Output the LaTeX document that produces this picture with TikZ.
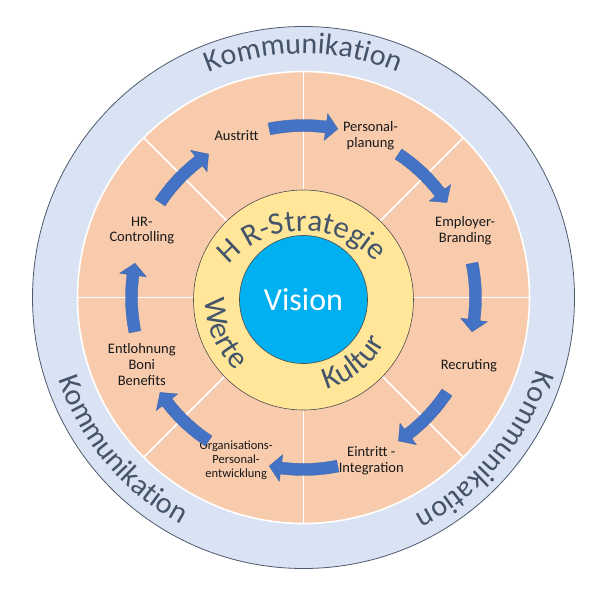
\documentclass[tikz,border=0pt]{standalone}
\usepackage{fontspec}
\setmainfont{Carlito}
\usepackage{tikz}
\usetikzlibrary{decorations.text}
\definecolor{bandblue}{HTML}{DAE3F3}
\definecolor{ringorange}{HTML}{F8CBAD}
\definecolor{coreyellow}{HTML}{FFE699}
\definecolor{visionblue}{HTML}{00B0F0}
\definecolor{arrowblue}{HTML}{4472C4}
\definecolor{slatetext}{HTML}{44546A}
\definecolor{rimgray}{HTML}{4E5B6E}

\newcommand{\kommfont}{\fontsize{30}{30}\selectfont\color{slatetext}}
\newcommand{\corefont}{\fontsize{31}{31}\selectfont\color{slatetext}}

\begin{document}
\begin{tikzpicture}[
  lbl/.style={
    font=\fontsize{14.5}{15.7}\selectfont,
    text=black!90,
    align=center,
    inner sep=0pt
  },
  divider/.style={draw=white, line width=1.6pt},
  flowarrow/.style={fill=arrowblue, draw=arrowblue!85!black, line width=0.3pt},
  curvetext/.style={decorate, decoration={text along path, text align=center, text={#1}}}
]
  \useasboundingbox[fill=white] (-303.5pt,-300.5pt) rectangle (307.5pt,297.5pt);

  % Outer ring: Kommunikation
  \filldraw[fill=bandblue, draw=rimgray, line width=0.8pt] (0,0) circle[radius=271pt];

  % Process ring with eight sectors
  \filldraw[fill=ringorange, draw=white, line width=1.6pt] (0,0) circle[radius=226pt];
  \foreach \a in {0,45,...,315}
    \draw[divider] (\a:100pt) -- (\a:226pt);

  % Core: values, culture, strategy and vision
  \filldraw[fill=coreyellow, draw=black!70, line width=0.6pt] (0pt,-2.5pt) circle[radius=110pt];
  \node[circle, fill=visionblue, draw=black!70, line width=0.6pt, minimum size=128pt, inner sep=0pt,
        text=white, font=\fontsize{32}{32}\selectfont] (vision) at (0pt,-2pt) {Vision};

  \path[curvetext={|\corefont|H R-Strategie}]
    ([shift={(0pt,-32.5pt)}]150:99pt) arc[start angle=150, end angle=32, radius=99pt];
  \path[curvetext={|\corefont|Werte}]
    ([shift={(0pt,-2.5pt)}]168:98pt) arc[start angle=168, end angle=238, radius=98pt];
  \path[curvetext={|\corefont|Kultur}]
    ([shift={(0pt,-2.5pt)}]-85:92pt) arc[start angle=-85, end angle=-18, radius=92pt];

  % Kommunikation lettering on the outer band
  \path[curvetext={|\kommfont|Kommunikation}]
    (125:244pt) arc[start angle=125, end angle=55, radius=244pt];
  \path[curvetext={|\kommfont|Kommunikation}]
    (-5:244pt) arc[start angle=-5, end angle=-75, radius=244pt];
  \path[curvetext={|\kommfont|Kommunikation}]
    (185:258pt) arc[start angle=185, end angle=255, radius=258pt];

  % Process steps
  \node[lbl] (austritt) at (112.5:175pt) {Austritt};
  \node[lbl] (planung) at (67.5:175pt) {Personal-\\planung};
  \node[lbl] (branding) at (22.5:175pt) {Employer-\\Branding};
  \node[lbl] (recruting) at (-22.5:179pt) {Recruting};
  \node[lbl] (eintritt) at (-67.5:177pt) {Eintritt -\\Integration};
  \node[lbl, font=\fontsize{12.5}{14}\selectfont] (entwicklung) at (-112.5:176pt)
    {Organisations-\\Personal-\\entwicklung};
  \node[lbl] (entlohnung) at (202.5:175pt) {Entlohnung\\Boni\\Benefits};
  \node[lbl] (controlling) at (157.5:175pt) {HR-\\Controlling};

  % Clockwise block arrows across the dividers
  \foreach \a in {0,45,...,315}
    \filldraw[flowarrow] (\a+11.5:178pt) arc[start angle=\a+11.5, end angle=\a-7.5, radius=178pt]
      -- (\a-7.5:185.5pt) -- (\a-11.5:172pt) -- (\a-7.5:158.5pt) -- (\a-7.5:166pt)
      arc[start angle=\a-7.5, end angle=\a+11.5, radius=166pt] -- cycle;

\end{tikzpicture}
\end{document}
